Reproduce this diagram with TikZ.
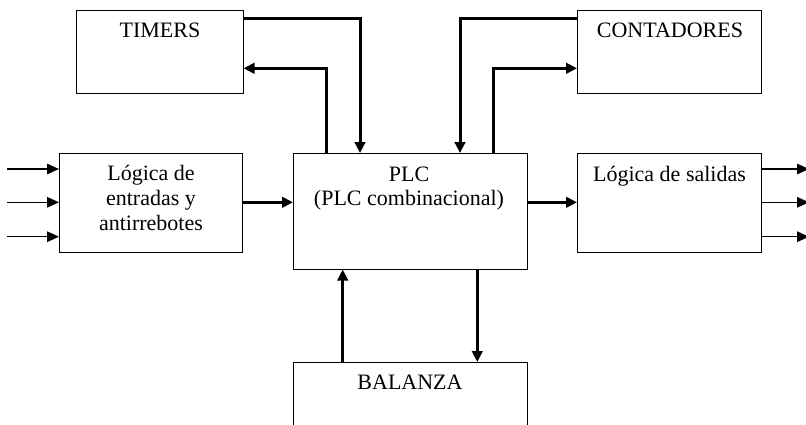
\documentclass[tikz,border=0pt]{standalone}
\usepackage{fontspec}
\setmainfont{Liberation Serif}
\usetikzlibrary{arrows.meta}
\begin{document}
\begin{tikzpicture}[x=1pt,y=-1pt,
  blockbox/.style={draw,line width=1pt,rectangle,inner sep=0pt,minimum width=#1},
  lbl/.style={font=\fontsize{22}{25}\selectfont,align=center,inner sep=0pt,anchor=base},
  bigarrow/.style={line width=3pt,-{Triangle[length=11pt,width=10.5pt]}},
  smallarrow/.style={line width=1.4pt,-{Triangle[length=12pt,width=10.5pt]}}]
\useasboundingbox (0,0) rectangle (806,424);
\clip (0,0) rectangle (806,424);
% boxes
\node[blockbox=167pt,minimum height=83pt] (timers) at (159.5,51.5) {};
\node[blockbox=184pt,minimum height=83pt] (contadores) at (669.5,51.5) {};
\node[blockbox=183pt,minimum height=99pt] (entradas) at (151,203) {};
\node[blockbox=233.5pt,minimum height=115.5pt] (plc) at (410.25,211.25) {};
\node[blockbox=184pt,minimum height=99pt] (salidas) at (669.5,203) {};
\node[blockbox=233.5pt,minimum height=77.5pt] (balanza) at (410.25,401.25) {};
% labels
\node[lbl] (tTimers) at (160,37.3) {TIMERS};
\node[lbl] (tCont) at (670,37.3) {CONTADORES};
\node[lbl] (tPlc1) at (409,181) {PLC};
\node[lbl] (tPlc2) at (409,205) {(PLC combinacional)};
\node[lbl] (tEnt1) at (151,180) {Lógica de};
\node[lbl] (tEnt2) at (151,205) {entradas y};
\node[lbl] (tEnt3) at (151,230) {antirrebotes};
\node[lbl] (tSal) at (669.5,181) {Lógica de salidas};
\node[lbl] (tBal) at (410,389) {BALANZA};
% thick connectors
\draw[bigarrow] (timers.east |- 0,18.5) -| (360,0 |- plc.north);
\draw[bigarrow] (326.7,0 |- plc.north) |- (timers.east |- 0,68.3);
\draw[bigarrow] (contadores.west |- 0,18.5) -| (460,0 |- plc.north);
\draw[bigarrow] (493.3,0 |- plc.north) |- (contadores.west |- 0,68.3);
\draw[bigarrow] (entradas.east |- 0,202.3) -- (plc.west |- 0,202.3);
\draw[bigarrow] (plc.east |- 0,202.3) -- (salidas.west |- 0,202.3);
\draw[bigarrow] (342.7,0 |- balanza.north) -- (342.7,0 |- plc.south);
\draw[bigarrow] (477.3,0 |- plc.south) -- (477.3,0 |- balanza.north);
% inputs
\coordinate (in1) at (7,169);
\coordinate (in2) at (7,202.3);
\coordinate (in3) at (7,236.7);
\draw[smallarrow] (in1) -- (entradas.west |- in1);
\draw[smallarrow] (in2) -- (entradas.west |- in2);
\draw[smallarrow] (in3) -- (entradas.west |- in3);
% outputs
\coordinate (out1) at (809,169);
\coordinate (out2) at (809,202.3);
\coordinate (out3) at (809,236.7);
\draw[smallarrow] (salidas.east |- out1) -- (out1);
\draw[smallarrow] (salidas.east |- out2) -- (out2);
\draw[smallarrow] (salidas.east |- out3) -- (out3);
\end{tikzpicture}
\end{document}
